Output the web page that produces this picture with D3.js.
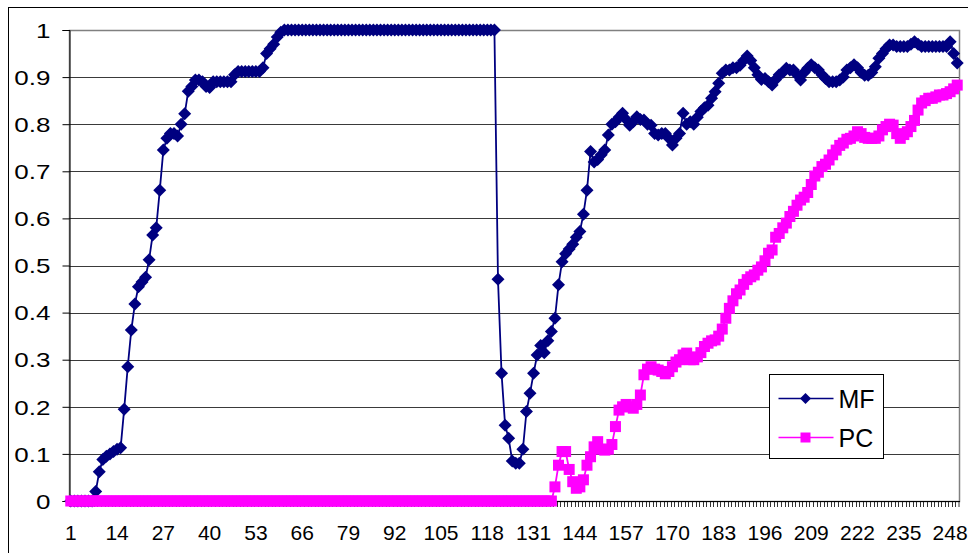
<!DOCTYPE html>
<html>
<head>
<meta charset="utf-8">
<script src="https://cdn.jsdelivr.net/npm/d3@7/dist/d3.min.js"></script>
<style>
  body { margin: 0; background: #fff; }
  svg { display: block; font-family: "Liberation Sans", Arial, sans-serif; }
</style>
</head>
<body>
<svg width="968" height="553"></svg>
<script>
var categories = d3.range(1, 251);
var tickLabels = [1, 14, 27, 40, 53, 66, 79, 92, 105, 118, 131, 144, 157, 170, 183, 196, 209, 222, 235, 248];
var yTicks = [0, 0.1, 0.2, 0.3, 0.4, 0.5, 0.6, 0.7, 0.8, 0.9, 1];
var seriesNames = ["MF", "PC"];

var mf = [
  0, 0, 0, 0, 0, 0, 0, 0.02, 0.062, 0.088,
  0.095, 0.1, 0.105, 0.11, 0.113, 0.195, 0.285, 0.363, 0.418, 0.455,
  0.465, 0.475, 0.512, 0.565, 0.58, 0.66, 0.745, 0.77, 0.78, 0.78,
  0.775, 0.8, 0.822, 0.87, 0.88, 0.894, 0.894, 0.89, 0.88, 0.878,
  0.89, 0.89, 0.89, 0.89, 0.89, 0.89, 0.905, 0.912, 0.912, 0.912,
  0.912, 0.912, 0.912, 0.912, 0.92, 0.95, 0.96, 0.97, 0.985, 0.995,
  1, 1, 1, 1, 1, 1, 1, 1, 1, 1,
  1, 1, 1, 1, 1, 1, 1, 1, 1, 1,
  1, 1, 1, 1, 1, 1, 1, 1, 1, 1,
  1, 1, 1, 1, 1, 1, 1, 1, 1, 1,
  1, 1, 1, 1, 1, 1, 1, 1, 1, 1,
  1, 1, 1, 1, 1, 1, 1, 1, 1, 1,
  0.471, 0.271, 0.161, 0.133, 0.085, 0.08, 0.08, 0.11, 0.19, 0.229,
  0.271, 0.31, 0.33, 0.315, 0.34, 0.36, 0.388, 0.459, 0.508, 0.525,
  0.535, 0.545, 0.56, 0.572, 0.609, 0.66, 0.742, 0.72, 0.725, 0.735,
  0.745, 0.777, 0.8, 0.805, 0.815, 0.823, 0.81, 0.798, 0.805, 0.816,
  0.81, 0.809, 0.8, 0.798, 0.78, 0.777, 0.78, 0.78, 0.77, 0.756,
  0.77, 0.78, 0.823, 0.8, 0.805, 0.8, 0.815, 0.827, 0.835, 0.84,
  0.855, 0.869, 0.887, 0.908, 0.915, 0.915, 0.92, 0.92, 0.925, 0.935,
  0.945, 0.935, 0.92, 0.905, 0.895, 0.897, 0.89, 0.883, 0.895, 0.905,
  0.91, 0.919, 0.915, 0.915, 0.905, 0.894, 0.91, 0.919, 0.926, 0.92,
  0.915, 0.905, 0.897, 0.89, 0.89, 0.89, 0.894, 0.9, 0.915, 0.92,
  0.926, 0.92, 0.91, 0.904, 0.904, 0.91, 0.922, 0.94, 0.95, 0.96,
  0.968, 0.968, 0.965, 0.965, 0.965, 0.965, 0.97, 0.975, 0.97, 0.965,
  0.965, 0.965, 0.965, 0.965, 0.965, 0.965, 0.965, 0.975, 0.95, 0.93
];

var pc = [
  0, 0, 0, 0, 0, 0, 0, 0, 0, 0,
  0, 0, 0, 0, 0, 0, 0, 0, 0, 0,
  0, 0, 0, 0, 0, 0, 0, 0, 0, 0,
  0, 0, 0, 0, 0, 0, 0, 0, 0, 0,
  0, 0, 0, 0, 0, 0, 0, 0, 0, 0,
  0, 0, 0, 0, 0, 0, 0, 0, 0, 0,
  0, 0, 0, 0, 0, 0, 0, 0, 0, 0,
  0, 0, 0, 0, 0, 0, 0, 0, 0, 0,
  0, 0, 0, 0, 0, 0, 0, 0, 0, 0,
  0, 0, 0, 0, 0, 0, 0, 0, 0, 0,
  0, 0, 0, 0, 0, 0, 0, 0, 0, 0,
  0, 0, 0, 0, 0, 0, 0, 0, 0, 0,
  0, 0, 0, 0, 0, 0, 0, 0, 0, 0,
  0, 0, 0, 0, 0, 0, 0.03, 0.076, 0.105, 0.105,
  0.067, 0.041, 0.027, 0.03, 0.045, 0.076, 0.094, 0.115, 0.126, 0.11,
  0.108, 0.11, 0.12, 0.158, 0.193, 0.2, 0.205, 0.2, 0.197, 0.205,
  0.225, 0.268, 0.28, 0.285, 0.28, 0.278, 0.275, 0.27, 0.275, 0.285,
  0.295, 0.3, 0.31, 0.314, 0.3, 0.3, 0.306, 0.315, 0.328, 0.335,
  0.34, 0.342, 0.35, 0.365, 0.388, 0.409, 0.425, 0.44, 0.448, 0.46,
  0.47, 0.476, 0.48, 0.49, 0.497, 0.51, 0.526, 0.533, 0.56, 0.568,
  0.58, 0.59, 0.604, 0.615, 0.628, 0.639, 0.645, 0.655, 0.672, 0.69,
  0.698, 0.71, 0.715, 0.724, 0.735, 0.745, 0.755, 0.76, 0.768, 0.77,
  0.775, 0.784, 0.78, 0.772, 0.77, 0.77, 0.77, 0.775, 0.788, 0.795,
  0.8, 0.798, 0.78, 0.77, 0.778, 0.784, 0.795, 0.808, 0.83, 0.845,
  0.85, 0.855, 0.855, 0.858, 0.862, 0.862, 0.865, 0.869, 0.875, 0.883
];

var colors = { MF: "#000080", PC: "#ff00ff" };

// plot area edges (not "top": that name is taken by window.top)
var plotL = 69, plotR = 959, plotT = 30, plotB = 501;

var svg = d3.select("svg");

// chart area border (runs off the picture to the right and bottom)
svg.append("rect")
  .attr("x", 8.5).attr("y", 7.5)
  .attr("width", 980).attr("height", 560)
  .attr("fill", "#fff")
  .attr("stroke", "#000");

var x = d3.scaleBand().domain(categories).range([plotL, plotR]).padding(0);
var y = d3.scaleLinear().domain([0, 1]).range([plotB, plotT]);
var cx = function(d) { return x(d) + x.bandwidth() / 2; };

// plot area frame
svg.append("rect")
  .attr("x", plotL + 0.5).attr("y", plotT + 0.5)
  .attr("width", plotR - plotL).attr("height", plotB - plotT)
  .attr("fill", "#fff")
  .attr("stroke", "#808080")
  .attr("stroke-width", 1.5);

// gridlines
svg.append("g").selectAll("line")
  .data(yTicks.filter(function(d) { return d > 0 && d < 1; }))
  .enter().append("line")
  .attr("x1", plotL).attr("x2", plotR)
  .attr("y1", function(d) { return Math.round(y(d)) + 0.5; })
  .attr("y2", function(d) { return Math.round(y(d)) + 0.5; })
  .attr("stroke", "#3a3a3a");

// y axis
var yAxis = svg.append("g")
  .attr("transform", "translate(" + (plotL + 0.5) + ",0)")
  .call(d3.axisLeft(y).tickValues(yTicks).tickSize(7).tickPadding(0).tickFormat(d3.format("")));
yAxis.select(".domain").attr("stroke", "#000");
yAxis.selectAll(".tick line").attr("stroke", "#000");
yAxis.selectAll(".tick text").remove();
yAxis.selectAll(".tick").append("text")
  .attr("transform", "translate(-19,0) scale(1.3,1)")
  .attr("text-anchor", "end")
  .attr("dy", "0.36em")
  .attr("fill", "#000")
  .attr("font-size", 20)
  .text(function(d) { return d3.format("")(d); });

// x axis: baseline, a tick at every category border, labels every 13th
svg.append("line")
  .attr("x1", plotL).attr("x2", plotR + 1)
  .attr("y1", plotB + 0.5).attr("y2", plotB + 0.5)
  .attr("stroke", "#000");

svg.append("g").selectAll("line")
  .data(categories.concat([251]))
  .enter().append("line")
  .attr("x1", function(d) { return d > 250 ? plotR : Math.round(x(d)) + 0.5; })
  .attr("x2", function(d) { return d > 250 ? plotR : Math.round(x(d)) + 0.5; })
  .attr("y1", plotB).attr("y2", plotB + 6)
  .attr("stroke", "#000")
  .attr("stroke-width", 0.8);

svg.append("g").selectAll("text")
  .data(tickLabels)
  .enter().append("text")
  .attr("x", cx)
  .attr("y", 540)
  .attr("text-anchor", "middle")
  .attr("font-size", 21)
  .text(function(d) { return d; });

// series
var diamond = "M0,-6.5L6.5,0L0,6.5L-6.5,0Z";
var line = d3.line()
  .x(function(d) { return cx(d.c); })
  .y(function(d) { return y(d.v); });

function draw(name, values) {
  var pts = categories.map(function(c, i) { return { c: c, v: values[i] }; });
  var g = svg.append("g").attr("class", "series " + name);
  g.append("path")
    .datum(pts)
    .attr("d", line)
    .attr("fill", "none")
    .attr("stroke", colors[name])
    .attr("stroke-width", 1.8);
  if (name == "MF") {
    g.selectAll("path.m").data(pts).enter().append("path")
      .attr("class", "m")
      .attr("d", diamond)
      .attr("transform", function(d) { return "translate(" + cx(d.c) + "," + y(d.v) + ")"; })
      .attr("fill", colors[name]);
  } else {
    g.selectAll("rect").data(pts).enter().append("rect")
      .attr("x", function(d) { return cx(d.c) - 5.5; })
      .attr("y", function(d) { return y(d.v) - 5.5; })
      .attr("width", 11).attr("height", 11)
      .attr("fill", colors[name]);
  }
}

draw("MF", mf);
draw("PC", pc);

// legend
var legend = svg.append("g").attr("transform", "translate(769.5,374.5)");
legend.append("rect")
  .attr("width", 114).attr("height", 84)
  .attr("fill", "#fff").attr("stroke", "#000");

var item = legend.selectAll("g.item")
  .data(seriesNames)
  .enter().append("g")
  .attr("class", "item")
  .attr("transform", function(d, i) { return "translate(0," + (24 + i * 39) + ")"; });

item.append("line")
  .attr("x1", 9).attr("x2", 64)
  .attr("stroke", function(d) { return colors[d]; })
  .attr("stroke-width", 1.6);

item.append("path")
  .attr("d", function(d) { return d == "MF" ? "M0,-5.5L5.5,0L0,5.5L-5.5,0Z" : "M-5,-5H5V5H-5Z"; })
  .attr("transform", "translate(36,0)")
  .attr("fill", function(d) { return colors[d]; });

item.append("text")
  .attr("x", 69)
  .attr("dy", "0.36em")
  .attr("font-size", 25)
  .text(function(d) { return d; });
</script>
</body>
</html>
